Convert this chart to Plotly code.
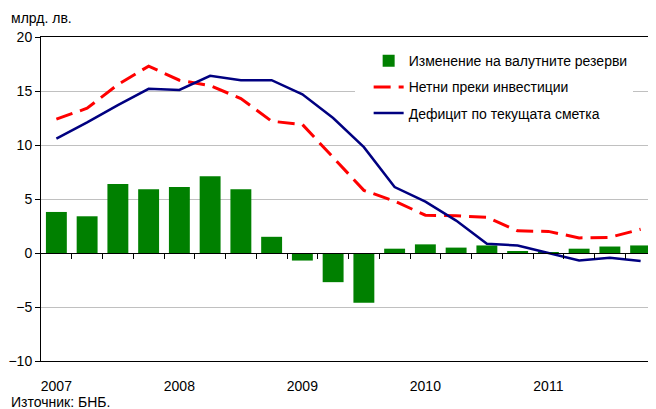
import plotly.graph_objects as go

quarters = [f"{y} Q{q}" for y in range(2007, 2012) for q in range(1, 5)]
reserves_change = [3.8, 3.4, 6.4, 5.9, 6.1, 7.1, 5.9, 1.5, -0.7, -2.7, -4.6, 0.4,
                   0.8, 0.5, 0.7, 0.15, 0.05, 0.4, 0.6, 0.7]
fdi_net = [12.4, 13.4, 15.6, 17.3, 16.0, 15.5, 14.3, 12.2, 11.9, 8.9, 5.8, 4.8,
           3.5, 3.45, 3.3, 2.05, 2.0, 1.4, 1.45, 2.2]
ca_deficit = [10.6, 12.1, 13.7, 15.2, 15.1, 16.4, 16.0, 16.0, 14.7, 12.5, 9.8, 6.1,
              4.75, 3.0, 0.85, 0.7, 0.0, -0.7, -0.45, -0.75]
year_ticks = ["2007 Q1", "2008 Q1", "2009 Q1", "2010 Q1", "2011 Q1"]
year_labels = ["2007", "2008", "2009", "2010", "2011"]
boundaries = [i + 0.5 for i in range(len(quarters) - 1)]

FONT = "Liberation Sans, Arial, sans-serif"

fig = go.Figure()
fig.add_trace(go.Bar(x=quarters, y=reserves_change, name="Изменение на валутните резерви",
                     marker=dict(color="#008000", line=dict(width=0)), width=0.68,
                     legendgroup="a"))
fig.add_trace(go.Scatter(x=quarters, y=fdi_net, name="Нетни преки инвестиции", mode="lines",
                         line=dict(color="#ff0000", width=3, dash="17px,8px"),
                         legendgroup="b"))
fig.add_trace(go.Scatter(x=quarters, y=ca_deficit, name="Дефицит по текущата сметка", mode="lines",
                         line=dict(color="#000080", width=2.5), legendgroup="c"))

fig.update_layout(
    width=648, height=401,
    margin=dict(l=33, r=0, t=29, b=48),
    paper_bgcolor="white", plot_bgcolor="white",
    font=dict(family=FONT, size=14, color="black"),
    showlegend=True,
    legend=dict(x=0.51, y=0.975, xanchor="left", yanchor="top", bgcolor="white",
                font=dict(size=14), tracegroupgap=5, itemwidth=30, indentation=14,
                entrywidth=290, entrywidthmode="pixels"),
    xaxis=dict(type="category", range=[-0.5, 19.5], tickmode="array",
               tickvals=year_ticks, ticktext=year_labels, ticks="",
               showline=True, linecolor="black", linewidth=1, mirror=True,
               showgrid=False, tickfont=dict(size=14), ticklabelstandoff=12),
    xaxis2=dict(overlaying="x", anchor="free", position=1/3, range=[-0.5, 19.5],
                tickmode="array", tickvals=boundaries, ticks="outside", ticklen=5,
                tickcolor="black", showticklabels=False, showline=True,
                linecolor="black", linewidth=1, showgrid=False, zeroline=False),
    yaxis=dict(range=[-10, 20], dtick=5, showline=True, linecolor="black", linewidth=1,
               ticks="outside", ticklen=5, tickcolor="black", showgrid=True,
               gridcolor="#c0c0c0", gridwidth=1, zeroline=False, tickfont=dict(size=14)),
    annotations=[
        dict(text="млрд. лв.", xref="paper", yref="paper", x=-32/615, y=1 + 19/324,
             xanchor="left", yanchor="middle", showarrow=False, font=dict(size=14)),
        dict(text="Източник: БНБ.", xref="paper", yref="paper", x=-32/615, y=-41/324,
             xanchor="left", yanchor="middle", showarrow=False, font=dict(size=14)),
    ],
)
# invisible trace to activate xaxis2 (tick marks on the zero line)
fig.add_trace(go.Scatter(x=[0], y=[0], xaxis="x2", mode="markers",
                         marker=dict(opacity=0), showlegend=False, hoverinfo="skip"))

fig.write_html("out.html")
